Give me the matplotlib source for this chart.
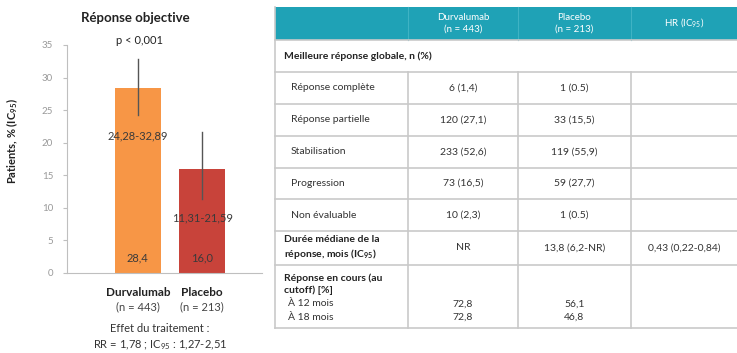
import matplotlib
matplotlib.use("Agg")
import matplotlib.pyplot as plt
from matplotlib.patches import Rectangle

plt.rcParams['font.family'] = ['Lato', 'DejaVu Sans']
plt.rcParams['mathtext.fontset'] = 'custom'
plt.rcParams['mathtext.rm'] = 'Lato'
plt.rcParams['mathtext.bf'] = 'Lato:bold'

# bar chart data
groups = ['Durvalumab', 'Placebo']
group_n = ['(n = 443)', '(n = 213)']
orr = [28.4, 16.0]
ci_low = [24.28, 11.31]
ci_high = [32.89, 21.59]
bar_colors = ['#F79646', '#C8433A']

# table data
col_headers = ['Durvalumab\n(n = 443)', 'Placebo\n(n = 213)', 'HR (IC$_{95}$)']
resp_labels = ['Réponse complète', 'Réponse partielle', 'Stabilisation',
               'Progression', 'Non évaluable']
resp_durva = ['6 (1,4)', '120 (27,1)', '233 (52,6)', '73 (16,5)', '10 (2,3)']
resp_placebo = ['1 (0.5)', '33 (15,5)', '119 (55,9)', '59 (27,7)', '1 (0.5)']
dur_values = ['NR', '13,8 (6,2-NR)', '0,43 (0,22-0,84)']
ongoing_durva = ['72,8', '72,8']
ongoing_placebo = ['56,1', '46,8']

W, H = 737, 353
fig = plt.figure(figsize=(W / 100, H / 100), dpi=100)

# ---------- bar chart ----------
def px(x0, y0, x1, y1):
    return [x0 / W, 1 - y1 / H, (x1 - x0) / W, (y1 - y0) / H]

ax = fig.add_axes(px(67, 45, 262, 273))
xs = range(len(groups))
ax.bar(xs, orr, width=0.71, color=bar_colors)
for i in xs:
    ax.plot([i, i], [ci_low[i], ci_high[i]], color='#555555', lw=1)
    ax.text(i, 2.3, f'{orr[i]:.1f}'.replace('.', ','), ha='center', va='center',
            fontsize=8, color='#3a3a3a')
ax.text(0, 21.0, f'{ci_low[0]:.2f}-{ci_high[0]:.2f}'.replace('.', ','),
        ha='center', va='center', fontsize=8, color='#3a3a3a')
ax.text(1, 8.4, f'{ci_low[1]:.2f}-{ci_high[1]:.2f}'.replace('.', ','),
        ha='center', va='center', fontsize=8, color='#3a3a3a')
ax.set_xlim(-1.1, 1.93)
ax.set_ylim(0, 35)
ax.set_yticks(range(0, 36, 5))
ax.set_xticks([])
ax.tick_params(axis='y', length=3, color='#BFBFBF', labelcolor='#999999',
               labelsize=7, pad=7)
for s in ['top', 'right']:
    ax.spines[s].set_visible(False)
for s in ['left', 'bottom']:
    ax.spines[s].set_color('#BFBFBF')
ax.set_ylabel('Patients, % (IC$_{\\mathbf{95}}$)', fontsize=8, fontweight='bold',
              color='#222222')
ax.yaxis.set_label_coords(-0.24, 0.58)

fig.text(135 / W, 1 - 18 / H, 'Réponse objective', ha='center', va='center',
         fontsize=9.5, fontweight='bold', color='#222222')
fig.text(140 / W, 1 - 41 / H, 'p < 0,001', ha='center', va='center',
         fontsize=8, color='#222222')
for i, x in enumerate([138, 202]):
    fig.text(x / W, 1 - 293 / H, groups[i], ha='center', va='center',
             fontsize=8.5, fontweight='bold', color='#222222')
    fig.text(x / W, 1 - 307 / H, group_n[i], ha='center', va='center',
             fontsize=8, color='#444444')
fig.text(160 / W, 1 - 329 / H, 'Effet du traitement :', ha='center', va='center',
         fontsize=8, color='#333333')
fig.text(160 / W, 1 - 345 / H, 'RR = 1,78 ; IC$_{95}$ : 1,27-2,51', ha='center',
         va='center', fontsize=8, color='#333333')

# ---------- table ----------
tx = fig.add_axes([0, 0, 1, 1])
tx.set_xlim(0, W)
tx.set_ylim(H, 0)
tx.axis('off')

cols = [275, 408, 518, 631, 737]
rows = [7, 40, 72, 104, 136, 168, 199, 231, 265, 328]
grid = '#C9C9C9'
teal = '#1FA2B6'
tfs = 7.5

tx.add_patch(Rectangle((cols[0], rows[0]), cols[-1] - cols[0], rows[1] - rows[0],
                       color=teal, lw=0))
for c in cols[1:-1]:
    tx.plot([c, c], [rows[0], rows[1]], color='#3fb3c4', lw=0.8)
for i, h in enumerate(col_headers):
    tx.text((cols[i + 1] + cols[i + 2]) / 2, (rows[0] + rows[1]) / 2, h,
            ha='center', va='center', fontsize=7, color='white',
            linespacing=1.3)

# horizontal lines
for r in rows[1:]:
    tx.plot([cols[0], cols[-1]], [r, r], color=grid, lw=1.2)
# vertical lines
tx.plot([cols[0], cols[0]], [rows[0], rows[-1]], color=grid, lw=1.2)
for c in cols[1:-1]:
    tx.plot([c, c], [rows[2], rows[-1]], color=grid, lw=1.2)

tx.text(284, (rows[1] + rows[2]) / 2, 'Meilleure réponse globale, n (%)',
        ha='left', va='center', fontsize=tfs, fontweight='bold', color='#222222')

for k, lab in enumerate(resp_labels):
    yc = (rows[2 + k] + rows[3 + k]) / 2
    tx.text(291, yc, lab, ha='left', va='center', fontsize=tfs, color='#333333')
    tx.text((cols[1] + cols[2]) / 2, yc, resp_durva[k], ha='center', va='center',
            fontsize=tfs, color='#333333')
    tx.text((cols[2] + cols[3]) / 2, yc, resp_placebo[k], ha='center',
            va='center', fontsize=tfs, color='#333333')

yc = (rows[7] + rows[8]) / 2
tx.text(284, yc, 'Durée médiane de la\nréponse, mois (IC$_{\\mathbf{95}}$)', ha='left',
        va='center', fontsize=tfs, fontweight='bold', color='#222222',
        linespacing=1.25)
for i, v in enumerate(dur_values):
    tx.text((cols[i + 1] + cols[i + 2]) / 2, yc, v, ha='center', va='center',
            fontsize=tfs, color='#333333')

tx.text(284, 284, 'Réponse en cours (au\ncutoff) [%]', ha='left', va='center',
        fontsize=tfs, fontweight='bold', color='#222222', linespacing=1.3)
for k, yy in enumerate([304, 317]):
    tx.text(288, yy, ['À 12 mois', 'À 18 mois'][k], ha='left', va='center',
            fontsize=tfs, color='#333333')
    tx.text((cols[1] + cols[2]) / 2, yy, ongoing_durva[k], ha='center',
            va='center', fontsize=tfs, color='#333333')
    tx.text((cols[2] + cols[3]) / 2, yy, ongoing_placebo[k], ha='center',
            va='center', fontsize=tfs, color='#333333')

fig.savefig('out.png', dpi=100)
